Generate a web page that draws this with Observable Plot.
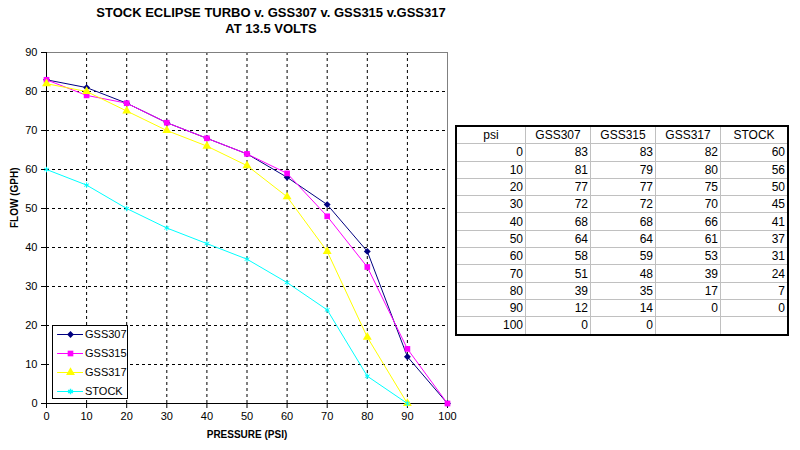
<!DOCTYPE html>
<html>
<head>
<meta charset="utf-8">
<script src="https://cdn.jsdelivr.net/npm/d3@7"></script>
<script src="https://cdn.jsdelivr.net/npm/@observablehq/plot@0.6"></script>
<style>
  body { margin: 0; background: #fff; font-family: "Liberation Sans", Arial, sans-serif; }
  #wrap { position: relative; width: 800px; height: 450px; overflow: hidden; }
  #title { position: absolute; left: 60px; width: 422px; top: 5px; text-align: center; font-weight: bold; font-size: 13px; line-height: 16px; color: #000; }
  #chart { position: absolute; left: 0; top: 0; }
  #legend { position: absolute; left: 52px; top: 325px; width: 74px; height: 72px; border: 1px solid #000; background: #fff; font-size: 11px; }
  #legend .row { position: absolute; left: 4px; height: 18px; display: flex; align-items: center; }
  #legend .row span { margin-left: 2px; }
  #tbl { position: absolute; left: 455px; top: 125px; border-collapse: collapse; border: 2px solid #000; font-size: 12px; }
  #tbl td { border: 1px solid #c0c0c0; height: 16.3px; padding: 0 2px 0 2px; text-align: right; line-height: 16px; }
  #tbl tr:first-child td { text-align: center; }
</style>
</head>
<body>
<div id="wrap">
  <div id="chart"></div>
  <div id="title">STOCK ECLIPSE TURBO v. GSS307 v. GSS315 v.GSS317<br>AT 13.5 VOLTS</div>
  <div id="legend"></div>
  <table id="tbl"></table>
</div>
<script>
const psi    = [0, 10, 20, 30, 40, 50, 60, 70, 80, 90, 100];
const gss307 = [83, 81, 77, 72, 68, 64, 58, 51, 39, 12, 0];
const gss315 = [83, 79, 77, 72, 68, 64, 59, 48, 35, 14, 0];
const gss317 = [82, 80, 75, 70, 66, 61, 53, 39, 17, 0, null];
const stock  = [60, 56, 50, 45, 41, 37, 31, 24, 7, 0, null];
const seriesNames = ["GSS307", "GSS315", "GSS317", "STOCK"];
const xTicks = [0, 10, 20, 30, 40, 50, 60, 70, 80, 90, 100];
const yTicks = [0, 10, 20, 30, 40, 50, 60, 70, 80, 90];

const seriesValues = [gss307, gss315, gss317, stock];
const colors  = ["#000080", "#ff00ff", "#ffff00", "#00ffff"];
const symbols = ["diamond2", "square", "triangle", "asterisk"];
const sizes   = [3.1, 3.2, 3.3, 2.6];

const rows = [];
seriesNames.forEach((name, i) => {
  psi.forEach((p, j) => {
    const v = seriesValues[i][j];
    if (v !== null && v !== undefined) rows.push({series: name, psi: p, flow: v});
  });
});

const marks = [
  Plot.ruleX(xTicks.filter(d => d > 0 && d < 100), {stroke: "#000", strokeDasharray: "3,3", strokeWidth: 1}),
  Plot.ruleY(yTicks.filter(d => d > 0 && d < 90), {stroke: "#000", strokeDasharray: "3,3", strokeWidth: 1}),
  Plot.ruleY([90], {stroke: "#808080"}),
  Plot.ruleX([100], {stroke: "#808080"}),
  Plot.ruleY([0], {stroke: "#000"}),
  Plot.ruleX([0], {stroke: "#000"}),
  Plot.axisX({ticks: xTicks, tickSize: 5, tickPadding: 4, fontSize: 11, label: null}),
  Plot.axisY({ticks: yTicks, tickSize: 5, tickPadding: 4, fontSize: 11, label: null}),
];
seriesNames.forEach((name, i) => {
  const data = rows.filter(r => r.series === name);
  marks.push(Plot.line(data, {x: "psi", y: "flow", stroke: colors[i], strokeWidth: 1}));
  if (symbols[i] === "asterisk") {
    marks.push(Plot.dot(data, {x: "psi", y: "flow", symbol: symbols[i], stroke: colors[i], r: sizes[i], strokeWidth: 1}));
  } else {
    marks.push(Plot.dot(data, {x: "psi", y: "flow", symbol: symbols[i], fill: colors[i], stroke: "none", r: sizes[i]}));
  }
});
marks.push(Plot.text(["PRESSURE (PSI)"], {frameAnchor: "bottom", dy: 34, fontWeight: "bold", fontSize: 10}));
marks.push(Plot.text(["FLOW (GPH)"], {frameAnchor: "left", dx: -32, rotate: -90, fontWeight: "bold", fontSize: 10}));

const chart = Plot.plot({
  width: 460,
  height: 450,
  marginLeft: 46,
  marginRight: 13,
  marginTop: 52,
  marginBottom: 47,
  style: {fontFamily: "'Liberation Sans', Arial, sans-serif", fontSize: "11px", color: "#000", background: "transparent", overflow: "visible"},
  x: {domain: [0, 100]},
  y: {domain: [0, 90]},
  marks
});
document.getElementById("chart").appendChild(chart);

// Legend
const legend = document.getElementById("legend");
seriesNames.forEach((name, i) => {
  const row = document.createElement("div");
  row.className = "row";
  row.style.top = (i * 19 - 1) + "px";
  const sw = Plot.plot({
    width: 26, height: 18, margin: 0,
    x: {domain: [0, 1], axis: null}, y: {domain: [0, 1], axis: null},
    style: {background: "transparent"},
    marks: [
      Plot.lineX([0, 1], {y: 0.5, stroke: colors[i], strokeWidth: 1}),
      symbols[i] === "asterisk"
        ? Plot.dot([0.5], {x: d => d, y: 0.5, symbol: symbols[i], stroke: colors[i], r: sizes[i]})
        : Plot.dot([0.5], {x: d => d, y: 0.5, symbol: symbols[i], fill: colors[i], stroke: "none", r: sizes[i]})
    ]
  });
  row.appendChild(sw);
  const s = document.createElement("span");
  s.textContent = name;
  row.appendChild(s);
  legend.appendChild(row);
});

// Table
const tbl = document.getElementById("tbl");
const header = ["psi", ...seriesNames];
const widths = [64, 60, 60, 60, 62];
let tr = document.createElement("tr");
header.forEach((h, k) => { const td = document.createElement("td"); td.textContent = h; td.style.width = widths[k] + "px"; tr.appendChild(td); });
tbl.appendChild(tr);
psi.forEach((p, j) => {
  tr = document.createElement("tr");
  [p, ...seriesValues.map(s => s[j])].forEach(v => {
    const td = document.createElement("td");
    td.textContent = (v === null || v === undefined) ? "" : v;
    tr.appendChild(td);
  });
  tbl.appendChild(tr);
});
</script>
</body>
</html>
